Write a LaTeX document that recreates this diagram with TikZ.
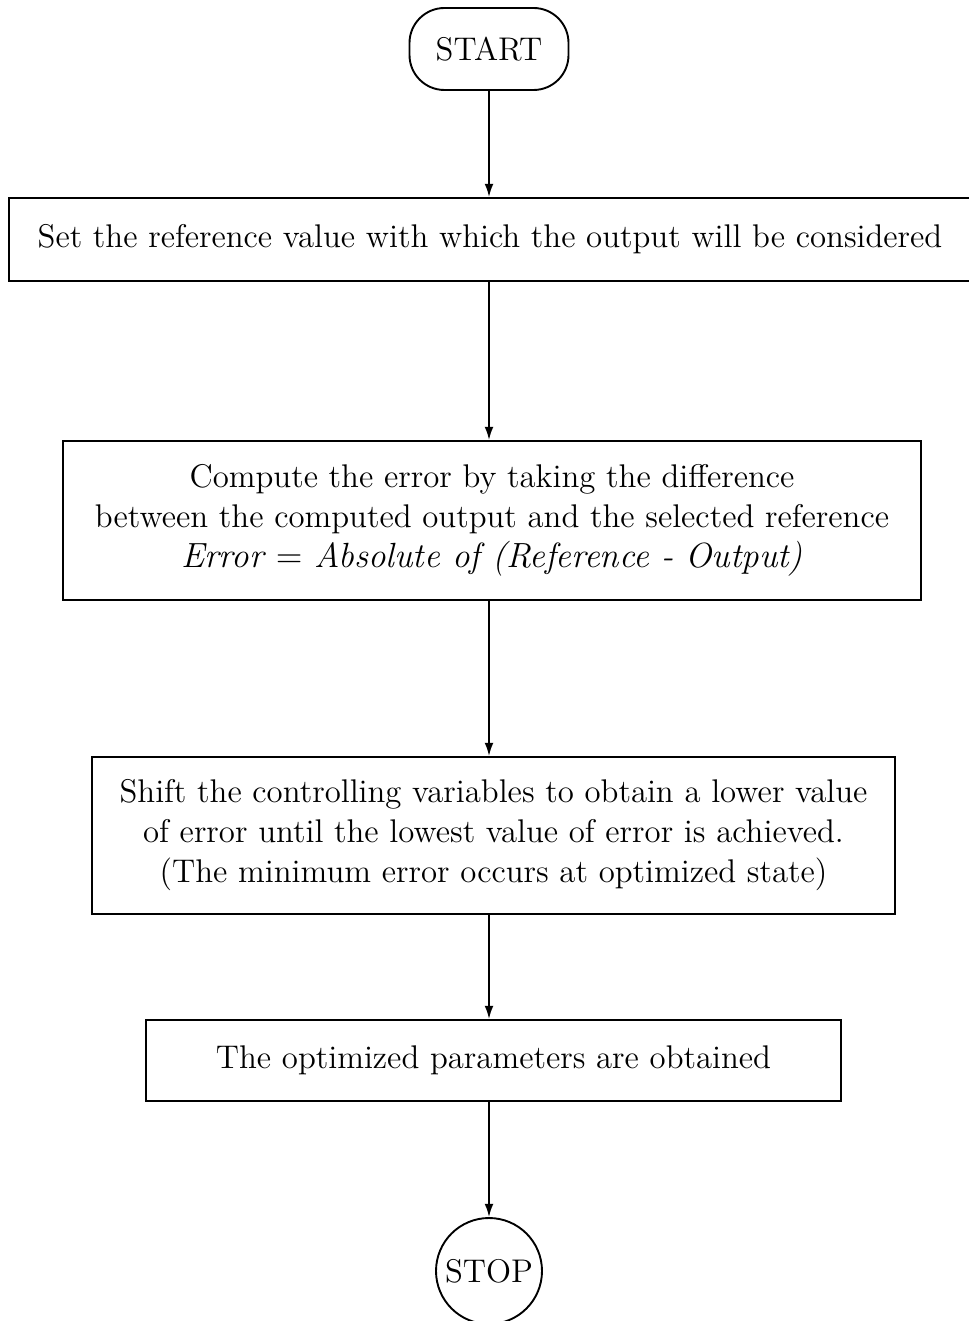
\documentclass[tikz,border=0pt]{standalone}
\usetikzlibrary{arrows.meta}
\def\pu{0.343pt}
\begin{document}
\begin{tikzpicture}[x=0.343pt,y=-0.343pt,
  every node/.style={font=\fontsize{11.25}{13.7}\selectfont},
  procbox/.style={draw,line width=0.65pt,rectangle,align=center,inner sep=0pt},
  flow/.style={line width=0.6pt,-{Latex[length=4.5pt,width=3pt]}}]
\useasboundingbox (0,0) rectangle (968,1321);
\node[draw,line width=0.65pt,rounded corners=12pt,minimum width=159*\pu,minimum height=82*\pu,inner sep=0pt] (start) at (489,49) {START};
\node[procbox,minimum width=962*\pu,minimum height=83*\pu] (b1) at (490,239.5) {Set the reference value with which the output will be considered};
\node[procbox,minimum width=858*\pu,minimum height=159*\pu] (b2) at (492,520.5) {Compute the error by taking the difference\\between the computed output and the selected reference\\{\fontsize{12}{13.7}\selectfont\textit{Error $=$ Absolute of (Reference - Output)}}};
\node[procbox,minimum width=803*\pu,minimum height=157*\pu] (b3) at (493.5,835.5) {Shift the controlling variables to obtain a lower value\\of error until the lowest value of error is achieved.\\(The minimum error occurs at optimized state)};
\node[procbox,minimum width=695*\pu,minimum height=81*\pu] (b4) at (493.5,1060.5) {The optimized parameters are obtained};
\node[draw,line width=0.65pt,circle,minimum size=106*\pu,inner sep=0pt] (stop) at (489,1271) {STOP};
\draw[flow] (start.south) -- (b1.north -| start.south);
\draw[flow] (b1.south -| start.south) -- (b2.north -| start.south);
\draw[flow] (b2.south -| start.south) -- (b3.north -| start.south);
\draw[flow] (b3.south -| start.south) -- (b4.north -| start.south);
\draw[flow] (b4.south -| start.south) -- (stop.north);
\end{tikzpicture}
\end{document}
